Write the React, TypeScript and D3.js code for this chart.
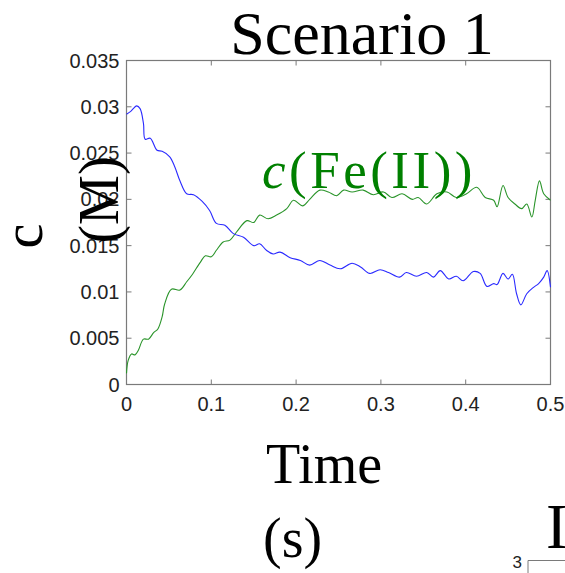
import React from "react";
import * as d3 from "d3";

const blueT = [0, 0.005, 0.012, 0.016, 0.02, 0.022, 0.028, 0.036, 0.042, 0.051, 0.057, 0.063, 0.071, 0.079, 0.089, 0.098, 0.106, 0.116, 0.126, 0.138, 0.15, 0.157, 0.165, 0.173, 0.181, 0.193, 0.205, 0.216, 0.228, 0.24, 0.252, 0.266, 0.276, 0.287, 0.299, 0.309, 0.322, 0.33, 0.342, 0.354, 0.362, 0.37, 0.38, 0.389, 0.397, 0.409, 0.417, 0.425, 0.433, 0.437, 0.444, 0.45, 0.455, 0.46, 0.465, 0.472, 0.48, 0.486, 0.492, 0.496, 0.5];
const blueC = [0.0292, 0.0295, 0.0301, 0.0298, 0.0282, 0.0265, 0.0266, 0.0253, 0.0252, 0.0246, 0.0235, 0.022, 0.0206, 0.0205, 0.0198, 0.0188, 0.0174, 0.0172, 0.0163, 0.0159, 0.015, 0.0152, 0.0145, 0.0141, 0.0143, 0.0137, 0.0134, 0.0129, 0.0134, 0.0129, 0.0125, 0.0131, 0.0127, 0.012, 0.0124, 0.0121, 0.0116, 0.0121, 0.0117, 0.0121, 0.0116, 0.0123, 0.0114, 0.0117, 0.0112, 0.0122, 0.012, 0.0106, 0.0109, 0.0108, 0.012, 0.0114, 0.0119, 0.0098, 0.0086, 0.0098, 0.0105, 0.0109, 0.0116, 0.0123, 0.0105];

const greenT = [0, 0.002, 0.006, 0.01, 0.014, 0.02, 0.026, 0.032, 0.037, 0.042, 0.045, 0.053, 0.063, 0.071, 0.077, 0.087, 0.093, 0.1, 0.106, 0.114, 0.122, 0.13, 0.142, 0.15, 0.157, 0.167, 0.177, 0.189, 0.197, 0.208, 0.216, 0.228, 0.238, 0.248, 0.256, 0.266, 0.279, 0.291, 0.303, 0.313, 0.325, 0.337, 0.344, 0.354, 0.366, 0.378, 0.389, 0.401, 0.413, 0.423, 0.433, 0.437, 0.444, 0.45, 0.458, 0.466, 0.472, 0.478, 0.482, 0.487, 0.492, 0.5];
const greenC = [0.0012, 0.0026, 0.0033, 0.0032, 0.0037, 0.0049, 0.0049, 0.0056, 0.006, 0.0073, 0.0087, 0.0103, 0.0102, 0.0111, 0.0118, 0.0132, 0.0139, 0.0138, 0.0145, 0.0154, 0.0156, 0.0165, 0.0177, 0.0175, 0.0183, 0.0179, 0.0183, 0.019, 0.0199, 0.0193, 0.02, 0.021, 0.0208, 0.0204, 0.021, 0.0208, 0.021, 0.0205, 0.0208, 0.0202, 0.0206, 0.02, 0.0202, 0.0195, 0.0206, 0.0208, 0.0202, 0.0206, 0.0213, 0.0202, 0.0199, 0.0192, 0.0215, 0.0202, 0.0195, 0.019, 0.0195, 0.0181, 0.0199, 0.022, 0.0206, 0.0199];

const xTicks = [0, 0.1, 0.2, 0.3, 0.4, 0.5];
const xTickLabels = ["0", "0.1", "0.2", "0.3", "0.4", "0.5"];
const yTicks = [0, 0.005, 0.01, 0.015, 0.02, 0.025, 0.03, 0.035];
const yTickLabels = ["0", "0.005", "0.01", "0.015", "0.02", "0.025", "0.03", "0.035"];

const W = 565;
const H = 573;
const L = 126.5, R = 550.5, T = 60.5, B = 384.5;

export default function App() {
  const x = d3.scaleLinear().domain([0, 0.5]).range([L, R]);
  const y = d3.scaleLinear().domain([0, 0.035]).range([B, T]);
  const line = d3
    .line<[number, number]>()
    .x((d) => x(d[0]))
    .y((d) => y(d[1]))
    .curve(d3.curveCatmullRom.alpha(0.5));
  const blue = blueT.map((t, i) => [t, blueC[i]] as [number, number]);
  const green = greenT.map((t, i) => [t, greenC[i]] as [number, number]);
  const axisColor = "#7a7a7a";
  const tl = 5;
  const serif = "'Liberation Serif', 'Times New Roman', serif";
  const sans = "'Liberation Sans', Arial, sans-serif";
  return (
    <svg
      width={W}
      height={H}
      style={{ position: "absolute", left: 0, top: 0, background: "#fff" }}
    >
      <rect x={0} y={0} width={W} height={H} fill="#fff" />
      {xTicks.map((t, i) => (
        <g key={"xt" + i}>
          <line x1={x(t)} x2={x(t)} y1={B} y2={B - tl} stroke={axisColor} />
          <line x1={x(t)} x2={x(t)} y1={T} y2={T + tl} stroke={axisColor} />
          <text
            x={x(t)}
            y={B + 26}
            textAnchor="middle"
            fontFamily={sans}
            fontSize={20}
            fill="#222"
          >
            {xTickLabels[i]}
          </text>
        </g>
      ))}
      {yTicks.map((t, i) => (
        <g key={"yt" + i}>
          <line x1={L} x2={L + tl} y1={y(t)} y2={y(t)} stroke={axisColor} />
          <line x1={R} x2={R - tl} y1={y(t)} y2={y(t)} stroke={axisColor} />
          <text
            x={L - 7}
            y={y(t) + 7}
            textAnchor="end"
            fontFamily={sans}
            fontSize={20}
            fill="#222"
          >
            {yTickLabels[i]}
          </text>
        </g>
      ))}
      <rect
        x={L}
        y={T}
        width={R - L}
        height={B - T}
        fill="none"
        stroke={axisColor}
        strokeWidth={1.2}
      />
      <path d={line(green) || ""} fill="none" stroke="#2a942a" strokeWidth={1.1} />
      <path d={line(blue) || ""} fill="none" stroke="#2a2aff" strokeWidth={1.1} />

      <text x={362} y={54} textAnchor="middle" fontFamily={serif} fontSize={62} fill="#000">
        Scenario 1
      </text>
      <text x={262} y={188} fontFamily={serif} fontSize={53} fill="#008000" letterSpacing={3.5}>
        <tspan fontStyle="italic">c</tspan>(Fe(II))
      </text>
      <text
        transform="translate(42,236) rotate(-90)"
        textAnchor="middle"
        fontFamily={serif}
        fontSize={56}
        fill="#000"
      >
        c
      </text>
      <text
        transform="translate(118,200) rotate(-90)"
        textAnchor="middle"
        fontFamily={serif}
        fontSize={56}
        fill="#000"
      >
        (M)
      </text>
      <text x={266} y={483} fontFamily={serif} fontSize={56} fill="#000">
        Time
      </text>
      <text x={263} y={557} fontFamily={serif} fontSize={56} fill="#000">
        (s)
      </text>
      <text x={546} y={548} fontFamily={serif} fontSize={64} fill="#000">
        I
      </text>
      <text x={522} y={568} textAnchor="end" fontFamily={sans} fontSize={17} fill="#222">
        3
      </text>
      <path d={`M528,${H}V560.5H${W}`} fill="none" stroke={axisColor} />
    </svg>
  );
}
